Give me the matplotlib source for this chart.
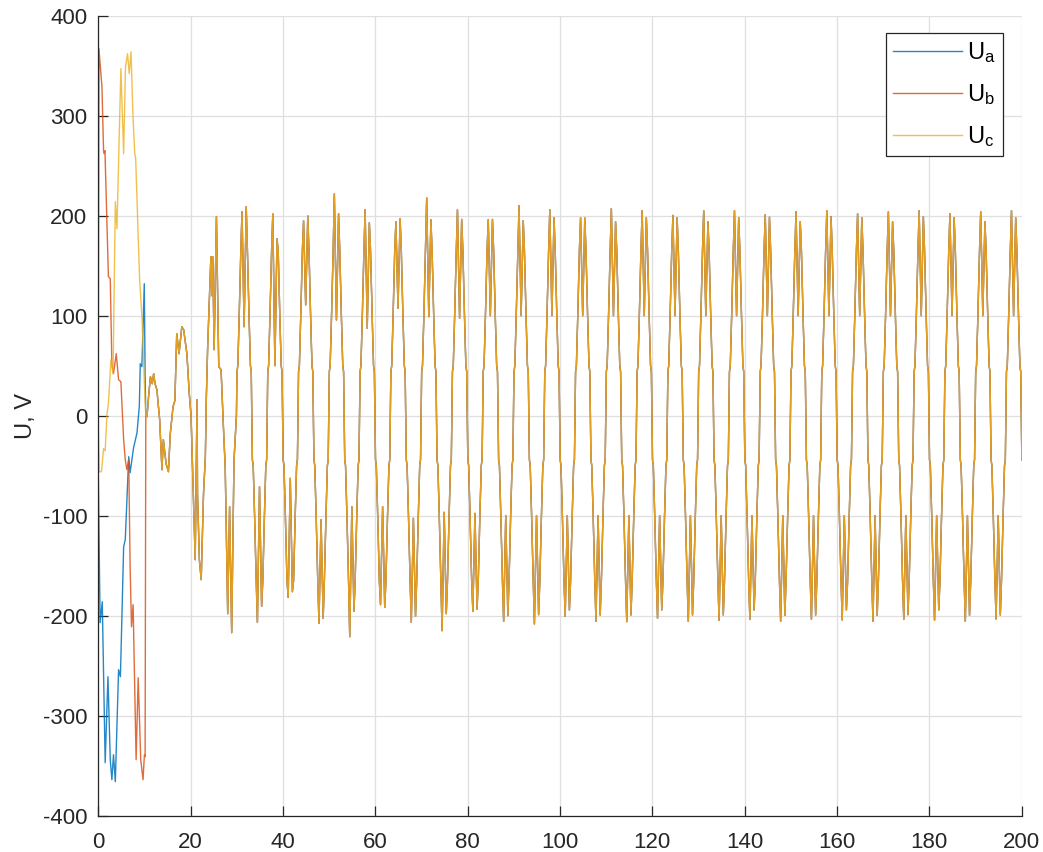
import numpy as np
import matplotlib
matplotlib.use("Agg")
import matplotlib.pyplot as plt

plt.rcParams['font.family'] = ['Liberation Sans', 'DejaVu Sans']
plt.rcParams['axes.unicode_minus'] = False

# --- start-up transient, phases still separate (time, volts) ---
t_a = [0, 0.4, 0.87, 1.5, 2.1, 2.6, 2.95, 3.3, 3.7, 4.4, 4.8, 5.5, 5.85, 6.6, 6.9,
       7.65, 8.4, 8.9, 9.1, 9.45, 9.97, 10.15]
u_a = [-56, -207, -186, -347, -261, -344, -364, -339, -366, -254, -261, -131, -124,
       -41, -57, -32, -17, 10, 52, 49, 132, 40]

t_b = [0, 0.15, 0.8, 1.15, 1.3, 1.45, 2.2, 2.6, 2.95, 3.3, 3.9, 4.4, 4.9, 5.5, 5.85,
       6.2, 6.6, 6.9, 7.2, 7.55, 8.2, 8.65, 9.2, 9.7, 10.0, 10.15]
u_b = [40, 367, 329, 265, 262, 265, 139, 137, 52, 42, 62, 36, 34, -24, -44,
       -54, -44, -150, -211, -189, -344, -262, -344, -364, -339, -341]

t_c = [0, 0.2, 0.7, 1.15, 1.5, 1.9, 2.2, 2.75, 3.2, 3.7, 4.05, 4.9, 5.5, 5.9, 6.35,
       6.7, 7.1, 7.5, 7.9, 8.1, 8.95, 9.5, 9.8, 10.15]
u_c = [-8, -56, -56, -33, -35, 2, 12, 56, 42, 214, 187, 347, 262, 349, 362,
       342, 364, 302, 262, 258, 137, 96, 56, 13]

# --- after the switch all three phases coincide ---
t_com = [10.3, 10.55, 10.9, 11.3, 11.7, 12.0, 12.3, 12.7, 13.3, 13.8, 14.1, 14.7,
         15.2, 15.6, 16.2, 16.6, 17.0, 17.5, 18.1, 18.5, 19.2, 19.7, 20.1, 20.6,
         21.0, 21.4, 21.5, 21.9, 22.3, 22.8, 23.2, 23.4, 23.7, 24.4, 24.6, 24.8,
         25.1, 25.6, 26.1, 26.6, 27.2, 27.5, 28.04, 28.45, 28.9, 29.4]
u_com = [0, -1, 19, 39, 32, 42, 32, 26, -4, -54, -24, -48,
         -56, -18, 9, 15, 82, 62, 89, 86, 62, 23, 0, -78,
         -144, 16, -78, -144, -164, -78, -41, 16, 69, 159, 120, 159,
         66, 199, 49, 46, -21, -51, -198, -91, -217, -45]

# --- steady state: one entry per cycle ---
first_peak = 31.14          # time of the first steady-state peak
period = 20 / 3
peak1 = [204, 201.7, 195, 221.7, 206, 194, 217.7, 206, 196, 210, 206, 198, 207,
         205, 200.3, 205, 205, 201, 204, 205, 202, 204, 205, 202, 204, 205]
peak2 = [209, 177, 199.7, 202, 193, 197, 196, 196.3, 196.3, 195, 198, 197.7, 194,
         198, 198, 194, 198, 198.5, 194, 199, 198, 194, 199, 198, 194, 198]
dip_pos = [89, 50, 110.7, 95.7, 87.4, 107.4, 99, 97.4, 100, 100, 100, 100, 100,
           100, 100, 100, 100, 100, 100, 100, 100, 100, 100, 100, 100, 100]
trough1 = [-206.7, -181.7, -207.7, -221, -189, -206.7, -215, -195.7, -205.7,
           -208.3, -200.7, -205.7, -206, -202.7, -205.7, -204.7, -203.7, -205.7,
           -203.7, -204.3, -205.7, -203.7, -204.7, -205.7, -203.3]
trough2 = [-190.7, -176, -202.7, -195.7, -191.7, -200.7, -198, -193.5, -200,
           -199, -194.3, -199.3, -199.3, -194.3, -199.3, -199.3, -194.3, -199.7,
           -199.3, -194.3, -199.7, -199, -194.3, -199.7, -199.3]
dip_neg = [-71, -62.6, -104, -91, -91, -102.6, -96.6, -97.7, -100, -100, -100,
           -100, -100, -100, -100, -100, -100, -100, -100, -100, -100, -100, -100,
           -100, -100]

# half-cycle shape: offsets from zero crossing and the shoulder levels
half_off = [0.0, 0.12, 0.30, 0.60, 0.95, 1.21, 1.665, 2.12, 2.38, 2.73, 3.03, 3.21]
shoulder = [0, 44, 50, 100, 165]


def half_wave(z, a1, d, a2, sign):
    vals = [sign * v for v in shoulder] + [a1, d, a2] + \
           [sign * v for v in shoulder[:0:-1]]
    return [z + o for o in half_off], vals


t_ss, u_ss = [], []
for k in range(len(peak1)):
    z = first_peak + k * period - 1.21
    tt, vv = half_wave(z, peak1[k], dip_pos[k], peak2[k], 1)
    t_ss += tt
    u_ss += vv
    if k < len(trough1):
        tt, vv = half_wave(z + period / 2, trough1[k], dip_neg[k], trough2[k], -1)
    else:
        tt, vv = [z + period / 2 + o for o in half_off[:2]], [0, -44]
    t_ss += tt
    u_ss += vv

t_tail = np.array(t_com + t_ss)
u_tail = np.array(u_com + u_ss)

Ta = np.concatenate([t_a, t_tail]); Ua = np.concatenate([u_a, u_tail])
Tb = np.concatenate([t_b, t_tail]); Ub = np.concatenate([u_b, u_tail])
Tc = np.concatenate([t_c, t_tail]); Uc = np.concatenate([u_c, u_tail])

fig = plt.figure(figsize=(10.43, 8.52), dpi=100)
ax = fig.add_axes([0.0942, 0.0426, 0.8853, 0.939])

ax.plot(Ta, Ua, color='#0072BD', lw=1.0, alpha=0.85, label=r'$\mathregular{U_a}$')
ax.plot(Tb, Ub, color='#D95319', lw=1.0, alpha=0.85, label=r'$\mathregular{U_b}$')
ax.plot(Tc, Uc, color='#EDB120', lw=1.0, alpha=0.8, label=r'$\mathregular{U_c}$')

ax.set_xlim(0, 200)
ax.set_ylim(-400, 400)
ax.set_xticks(np.arange(0, 201, 20))
ax.set_yticks(np.arange(-400, 401, 100))
ax.grid(True, color='#DFDFDF', lw=0.9)
ax.set_axisbelow(True)
for s in ['top', 'right']:
    ax.spines[s].set_visible(False)
for s in ['left', 'bottom']:
    ax.spines[s].set_color('#262626')
    ax.spines[s].set_linewidth(0.9)
ax.tick_params(direction='in', length=7, width=0.9, color='#262626',
               labelcolor='#262626', labelsize=16, pad=8)
ax.tick_params(axis='x', pad=12)
ax.set_ylabel('U, V', fontsize=17, color='#262626', labelpad=4)

leg = ax.legend(loc='upper right', bbox_to_anchor=(0.98, 0.978), fontsize=17,
                fancybox=False, framealpha=1, edgecolor='#262626',
                handlelength=2.9, handletextpad=0.25, labelspacing=0.72,
                borderpad=0.3, borderaxespad=0)
leg.get_frame().set_linewidth(0.9)

fig.savefig('out.png', dpi=100)
